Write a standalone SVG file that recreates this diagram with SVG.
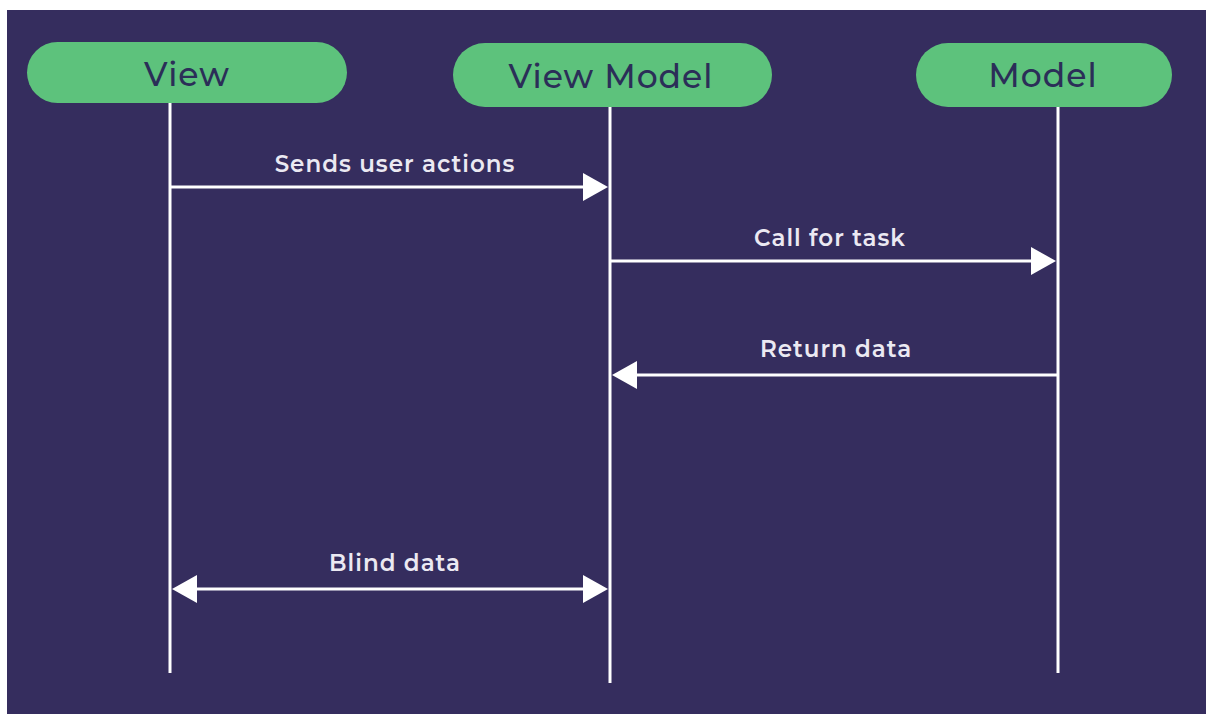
<svg xmlns="http://www.w3.org/2000/svg" width="1208" height="714" viewBox="0 0 1208 714">
<style>
.pill{fill:#5dc27c}
.ntext{font-family:"Montserrat","Noto Sans","Liberation Sans",sans-serif;font-size:33px;font-weight:500;letter-spacing:1px;fill:#2b2e58;text-anchor:middle}
.life{stroke:#ffffff;stroke-width:3}
.msg{stroke:#ffffff;stroke-width:3;fill:none}
.lbl{font-family:"Montserrat","Noto Sans","Liberation Sans",sans-serif;font-size:23px;font-weight:600;letter-spacing:1px;fill:#ebe9f2;text-anchor:middle}
.head{fill:#ffffff}
</style>
<rect x="0" y="0" width="1208" height="714" fill="#ffffff"/>
<rect x="7" y="10" width="1199" height="704" fill="#352d5e"/>
<g id="connectors">
<line class="life" x1="170" y1="103" x2="170" y2="673"/>
<line class="life" x1="610" y1="107" x2="610" y2="683"/>
<line class="life" x1="1058" y1="107" x2="1058" y2="673"/>
<line class="msg" x1="170" y1="187" x2="590" y2="187"/>
<polygon class="head" points="608,187 583,173 583,201"/>
<text class="lbl" x="395" y="172">Sends user actions</text>
<line class="msg" x1="610" y1="261" x2="1036" y2="261"/>
<polygon class="head" points="1056,261 1031,247 1031,275"/>
<text class="lbl" x="830" y="246">Call for task</text>
<line class="msg" x1="632" y1="375" x2="1058" y2="375"/>
<polygon class="head" points="612,375 637,361 637,389"/>
<text class="lbl" x="836" y="357">Return data</text>
<line class="msg" x1="190" y1="589" x2="590" y2="589"/>
<polygon class="head" points="172,589 197,575 197,603"/>
<polygon class="head" points="608,589 583,575 583,603"/>
<text class="lbl" x="395" y="571">Blind data</text>
</g>
<g id="view">
<rect class="pill" x="27" y="42" width="320" height="61" rx="30.5"/>
<text class="ntext" x="187" y="86">View</text>
</g>
<g id="viewmodel">
<rect class="pill" x="453" y="43" width="319" height="64" rx="32"/>
<text class="ntext" x="611" y="88">View Model</text>
</g>
<g id="model">
<rect class="pill" x="916" y="43" width="256" height="64" rx="32"/>
<text class="ntext" x="1043" y="87">Model</text>
</g>
</svg>
